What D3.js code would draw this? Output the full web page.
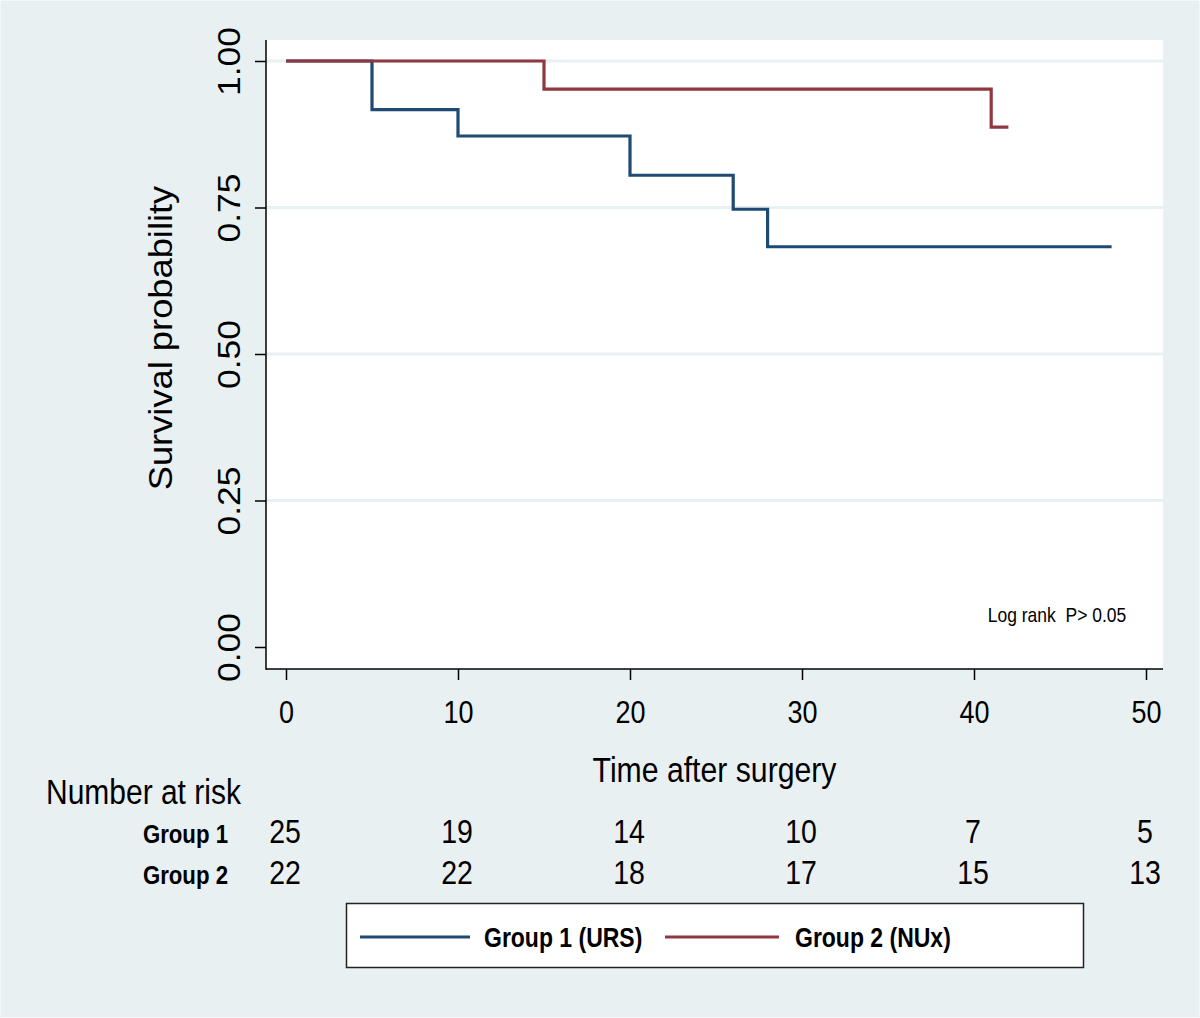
<!DOCTYPE html>
<html>
<head>
<meta charset="utf-8">
<script src="https://cdn.jsdelivr.net/npm/d3@7"></script>
<style>
  html, body { margin: 0; padding: 0; background: #e9f0f2; }
  svg { display: block; }
  text { font-family: "Liberation Sans", Arial, sans-serif; fill: #000; }
</style>
</head>
<body>
<svg id="chart" width="1200" height="1018"></svg>
<script>
// ---- data ----
const timeTicks = [0, 10, 20, 30, 40, 50];
const survTicks = [0, 0.25, 0.5, 0.75, 1];
const survTickLabels = ["0.00", "0.25", "0.50", "0.75", "1.00"];
const group1Times = [0, 5, 10, 20, 26, 28, 48];
const group1Surv  = [1, 0.917, 0.872, 0.805, 0.747, 0.683, 0.683];
const group2Times = [0, 15, 41, 42];
const group2Surv  = [1, 0.952, 0.887, 0.887];
const riskGroups = ["Group 1", "Group 2"];
const riskGroup1 = [25, 19, 14, 10, 7, 5];
const riskGroup2 = [22, 22, 18, 17, 15, 13];
const legendLabels = ["Group 1 (URS)", "Group 2 (NUx)"];
const seriesColors = ["#1f4a73", "#8f3840"];

// ---- layout ----
const svg = d3.select("#chart");
const W = 1200, H = 1018;
const SY = 1.17; // vertical stretch of the glyphs in the reference
const plot = { left: 266, right: 1163, top: 40, bottom: 669 };

svg.append("rect").attr("x", 0).attr("y", 0).attr("width", W).attr("height", H).attr("fill", "#e9f0f2");
svg.append("rect").attr("x", 0.5).attr("y", 0.5).attr("width", W - 1).attr("height", H - 1)
   .attr("fill", "none").attr("stroke", "#f4f8f9").attr("stroke-width", 1);

const x = d3.scaleLinear().domain([0, 50]).range([286, 1146]);
const y = d3.scaleLinear().domain([0, 1]).range([647, 61]);

// plot region
svg.append("rect").attr("x", plot.left).attr("y", plot.top)
   .attr("width", plot.right - plot.left).attr("height", plot.bottom - plot.top)
   .attr("fill", "#ffffff");

// gridlines
svg.append("g").selectAll("line").data(survTicks.filter(d => d > 0)).join("line")
   .attr("x1", plot.left).attr("x2", plot.right)
   .attr("y1", d => y(d)).attr("y2", d => y(d))
   .attr("stroke", "#e9f0f2").attr("stroke-width", 3);

// y axis
const yAxis = d3.axisLeft(y).tickValues(survTicks)
  .tickFormat((d, i) => survTickLabels[i]).tickSize(11).tickSizeOuter(0);
const gy = svg.append("g").attr("transform", `translate(${plot.left},0)`).call(yAxis);
gy.select(".domain").remove();
gy.selectAll(".tick line").attr("stroke", "#000").attr("stroke-width", 1.5);
gy.selectAll(".tick text")
  .attr("x", null).attr("dy", null).attr("y", null)
  .attr("text-anchor", "middle")
  .attr("font-size", 30.5)
  .attr("font-family", "Liberation Sans, Arial, sans-serif")
  .attr("fill", "#000")
  .attr("transform", "translate(-26,0) rotate(-90) scale(1.16,1)");

// x axis
const xAxis = d3.axisBottom(x).tickValues(timeTicks).tickSize(11).tickSizeOuter(0);
const gx = svg.append("g").attr("transform", `translate(0,${plot.bottom})`).call(xAxis);
gx.select(".domain").remove();
gx.selectAll(".tick line").attr("stroke", "#000").attr("stroke-width", 1.5);
gx.selectAll(".tick text")
  .attr("y", null).attr("dy", null)
  .attr("font-size", 27)
  .attr("font-family", "Liberation Sans, Arial, sans-serif")
  .attr("fill", "#000")
  .attr("transform", `translate(0,54) scale(1,${SY})`);

// axis lines
svg.append("line").attr("x1", plot.left).attr("x2", plot.left)
   .attr("y1", plot.top).attr("y2", plot.bottom + 0.75)
   .attr("stroke", "#000").attr("stroke-width", 1.5);
svg.append("line").attr("x1", plot.left).attr("x2", plot.right)
   .attr("y1", plot.bottom).attr("y2", plot.bottom)
   .attr("stroke", "#000").attr("stroke-width", 1.5);

// survival curves
const line = d3.line().x(d => x(d[0])).y(d => y(d[1])).curve(d3.curveStepAfter);
const curves = [
  d3.zip(group1Times, group1Surv),
  d3.zip(group2Times, group2Surv)
];
svg.append("g").selectAll("path").data(curves).join("path")
   .attr("d", d => line(d))
   .attr("fill", "none")
   .attr("stroke", (d, i) => seriesColors[i])
   .attr("stroke-width", 3.2)
   .attr("stroke-linejoin", "miter");

// annotation
svg.append("text").attr("transform", `translate(1057,622) scale(1,1.12)`)
   .attr("text-anchor", "middle")
   .attr("font-family", "Lato, 'Open Sans', sans-serif")
   .attr("font-size", 17.5)
   .attr("xml:space", "preserve")
   .style("white-space", "pre")
   .text("Log rank  P> 0.05");

// axis titles
svg.append("text").attr("transform", `translate(172,338) rotate(-90) scale(1.1,1)`)
   .attr("text-anchor", "middle").attr("font-size", 33)
   .text("Survival probability");
svg.append("text").attr("transform", `translate(714.5,782) scale(1,${SY})`)
   .attr("text-anchor", "middle").attr("font-size", 30.2)
   .text("Time after surgery");

// number at risk table
svg.append("text").attr("transform", `translate(46,804) scale(1,${SY})`)
   .attr("font-size", 30).text("Number at risk");
const riskRows = [riskGroup1, riskGroup2];
const rowBase = [843, 884];
riskGroups.forEach((g, r) => {
  svg.append("text").attr("transform", `translate(228,${rowBase[r]}) scale(1,1.2)`)
     .attr("text-anchor", "end").attr("font-weight", "bold").attr("font-size", 22.2)
     .text(g);
  svg.append("g").selectAll("text").data(riskRows[r]).join("text")
     .attr("transform", (d, i) => `translate(${x(timeTicks[i]) - 1},${rowBase[r]}) scale(1,${SY})`)
     .attr("text-anchor", "middle").attr("font-size", 28.5)
     .text(d => d);
});

// legend
svg.append("rect").attr("x", 346.5).attr("y", 903.5).attr("width", 737).attr("height", 64)
   .attr("fill", "#fff").attr("stroke", "#222").attr("stroke-width", 1.5);
const legendItems = [
  { x1: 360, x2: 470, tx: 484 },
  { x1: 665, x2: 779, tx: 795 }
];
legendItems.forEach((it, i) => {
  svg.append("line").attr("x1", it.x1).attr("x2", it.x2).attr("y1", 937).attr("y2", 937)
     .attr("stroke", seriesColors[i]).attr("stroke-width", 3.2);
  svg.append("text").attr("transform", `translate(${it.tx},947) scale(1,1.2)`)
     .attr("font-weight", "bold").attr("font-size", 23)
     .text(legendLabels[i]);
});
</script>
</body>
</html>
